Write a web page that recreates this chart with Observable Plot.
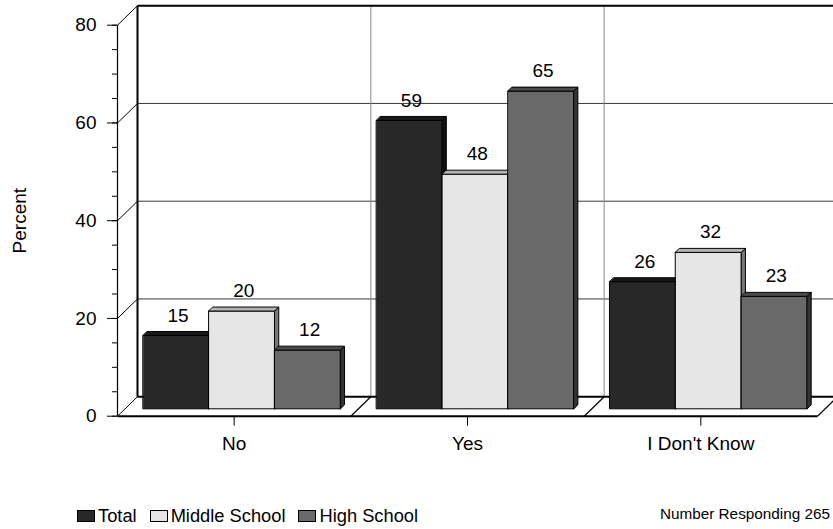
<!DOCTYPE html>
<html><head><meta charset="utf-8">
<script src="https://cdn.jsdelivr.net/npm/d3@7"></script>
<script src="https://cdn.jsdelivr.net/npm/@observablehq/plot@0.6"></script>
<style>
body{margin:0;background:#fff;font-family:"Liberation Sans",Arial,sans-serif;}
#wrap{position:relative;width:833px;height:529px;overflow:hidden;}
#legend{position:absolute;left:77px;top:505px;display:flex;align-items:center;font-size:18.3px;line-height:22px;white-space:nowrap;}
.item{display:flex;align-items:center;margin-right:13px}
.sw{width:16px;height:10px;border:1px solid #000;margin-right:3px}
#note{position:absolute;right:3px;top:505px;font-size:15.3px;line-height:18px;white-space:nowrap;}
svg{display:block}
</style></head><body><div id="wrap"><div id="chart"></div><div id="legend"></div><div id="note"></div></div>
<script>
const categories = ["No", "Yes", "I Don't Know"];
const seriesNames = ["Total", "Middle School", "High School"];
const totalValues = [15, 59, 26];
const middleValues = [20, 48, 32];
const highValues = [12, 65, 23];
const yTicks = [0, 20, 40, 60, 80];
const minorTicks = [0, 5, 10, 15, 20, 25, 30, 35, 40, 45, 50, 55, 60, 65, 70, 75, 80];
const respondents = 265;

const frontColors = ["#282828", "#e6e6e6", "#696969"];
const topColors = ["#181818", "#b4b4b4", "#4a4a4a"];
const sideColors = ["#101010", "#787878", "#333333"];

const seriesValues = [totalValues, middleValues, highValues];

// layout
const W = 833, H = 480, mL = 117, mR = 16, mT = 24.7, mB = 64.3;
const kx = (W - mL - mR) / categories.length;
const ky = (H - mT - mB) / 80;
const ux = p => p / kx, uy = p => p / ky;
const wdx = ux(20), wdy = uy(19.5);
const bx = ux(7.7), by = uy(7.4);
const ddx = ux(4), ddy = uy(4);
const gw = 0.8457, bw = gw / 3;
const nCat = categories.length;

// bar polygons
const pts = [];
const labels = [];
let pid = 0;
categories.forEach((cat, c) => {
  seriesValues.forEach((vals, s) => {
    const v = vals[c];
    const xl = c + (1 - gw) / 2 + s * bw + bx, xr = xl + bw;
    const y0 = by, y1 = v + by;
    const faces = [
      [[xl, y0], [xr, y0], [xr, y1], [xl, y1], frontColors[s]],
      [[xl, y1], [xr, y1], [xr + ddx, y1 + ddy], [xl + ddx, y1 + ddy], topColors[s]],
      [[xr, y0], [xr + ddx, y0 + ddy], [xr + ddx, y1 + ddy], [xr, y1], sideColors[s]]
    ];
    faces.forEach(f => {
      const fill = f[4];
      for (let k = 0; k < 4; k++) pts.push({pid, x: f[k][0], y: f[k][1], fill});
      pid++;
    });
    labels.push({x: (xl + xr) / 2 + ddx / 2, y: y1 + ddy, text: String(v)});
  });
});

// wall & floor
const gridH = yTicks.filter(t => t > 0 && t < 80).map(t => ({x1: wdx, y1: t + wdy, x2: nCat + wdx + 0.1, y2: t + wdy}));
const gridV = d3.range(1, nCat).map(c => ({x1: c + wdx, y1: wdy, x2: c + wdx, y2: 80 + wdy}));
const diag = yTicks.map(t => ({x1: 0, y1: t, x2: wdx, y2: t + wdy}));
const floorDiv = d3.range(1, nCat + 1).map(c => ({x1: c, y1: 0, x2: c + wdx, y2: wdy}));
const frameThick = [
  {x1: wdx, y1: 80 + wdy, x2: nCat + wdx + 0.1, y2: 80 + wdy},
  {x1: wdx, y1: wdy, x2: wdx, y2: 80 + wdy},
  {x1: wdx, y1: wdy, x2: nCat + wdx + 0.1, y2: wdy},
  {x1: 0, y1: 0, x2: nCat, y2: 0}
];

const chart = Plot.plot({
  width: W, height: H,
  marginLeft: mL, marginRight: mR, marginTop: mT, marginBottom: mB,
  style: {fontFamily: "'Liberation Sans', Arial, sans-serif", fontSize: "19px", color: "#000", background: "#fff"},
  x: {type: "linear", domain: [0, nCat]},
  y: {type: "linear", domain: [0, 80]},
  color: {type: "identity"},
  marks: [
    Plot.link(gridH, {x1: "x1", y1: "y1", x2: "x2", y2: "y2", stroke: "#3a3a3a", strokeWidth: 1}),
    Plot.link(gridV, {x1: "x1", y1: "y1", x2: "x2", y2: "y2", stroke: "#8a8a8a", strokeWidth: 1}),
    Plot.link(diag, {x1: "x1", y1: "y1", x2: "x2", y2: "y2", stroke: "#000", strokeWidth: 1}),
    Plot.link(floorDiv, {x1: "x1", y1: "y1", x2: "x2", y2: "y2", stroke: "#000", strokeWidth: 1.2}),
    Plot.link(frameThick, {x1: "x1", y1: "y1", x2: "x2", y2: "y2", stroke: "#000", strokeWidth: 2}),
    Plot.ruleX([0], {y1: 0, y2: 80, stroke: "#000", strokeWidth: 1.2}),
    Plot.axisY(minorTicks, {tickSize: 5, tickFormat: () => "", label: null, stroke: "#000"}),
    Plot.axisY(yTicks, {tickSize: 10, tickPadding: 11, fontSize: 19, label: null, stroke: "#000"}),
    Plot.axisX([0.5, 1.5, 2.5], {tickSize: 10, tickPadding: 10, fontSize: 19, label: null,
      tickFormat: d => categories[Math.floor(d)]}),
    Plot.text(["Percent"], {frameAnchor: "left", textAnchor: "middle", dx: -98, rotate: -90, fontSize: 19}),
    Plot.line(pts, {x: "x", y: "y", z: "pid", fill: "fill", stroke: "#000", strokeWidth: 1, curve: "linear-closed"}),
    Plot.text(labels, {x: "x", y: "y", text: "text", dy: -16, fontSize: 19})
  ]
});
document.getElementById("chart").appendChild(chart);

const legend = document.getElementById("legend");
seriesNames.forEach((name, i) => {
  const item = document.createElement("div");
  item.className = "item";
  const sw = document.createElement("span");
  sw.className = "sw";
  sw.style.background = frontColors[i];
  item.appendChild(sw);
  const t = document.createElement("span");
  t.textContent = name;
  item.appendChild(t);
  legend.appendChild(item);
});
document.getElementById("note").textContent = "Number Responding " + respondents;
</script>
</body></html>
